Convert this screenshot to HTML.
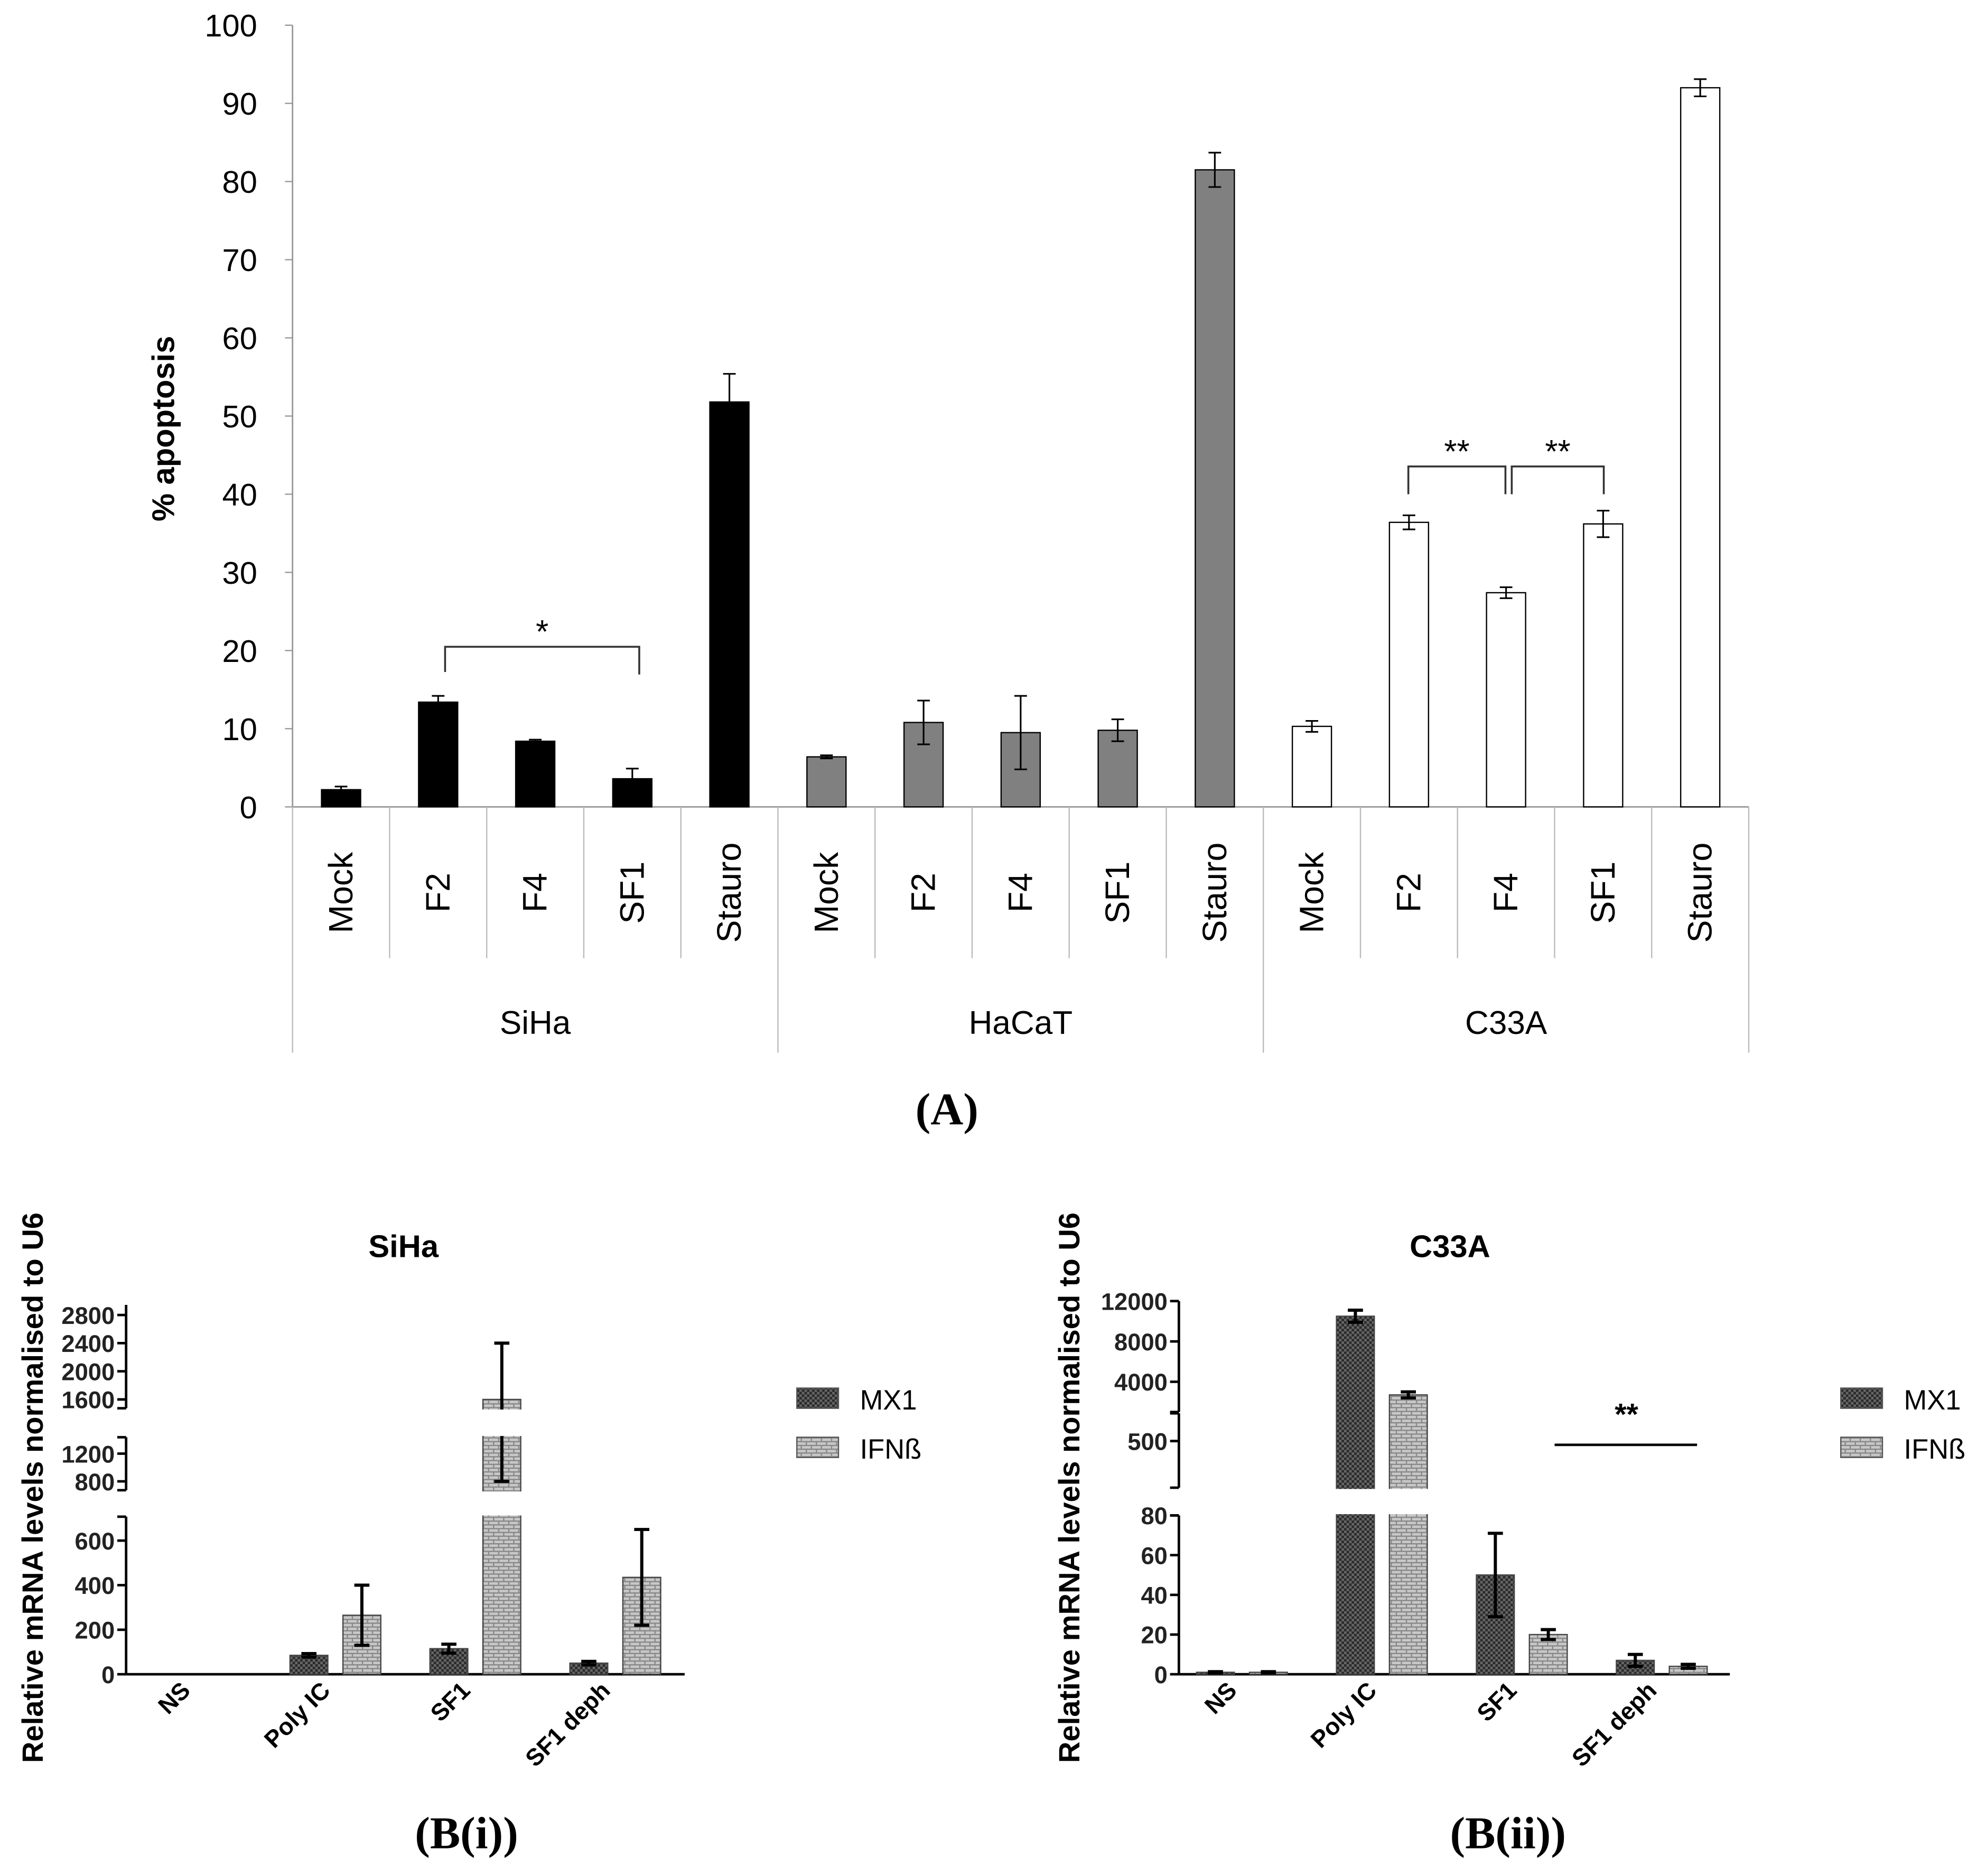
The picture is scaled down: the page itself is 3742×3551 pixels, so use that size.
<!DOCTYPE html>
<html><head><meta charset="utf-8"><style>html,body{margin:0;padding:0;background:#fff}svg{display:block}</style></head>
<body>
<svg id="fig" xmlns="http://www.w3.org/2000/svg" width="3742" height="3551" viewBox="0 0 1568 1488" font-family="Liberation Sans, sans-serif">
<defs>
<pattern id="pmx" width="4" height="4" patternUnits="userSpaceOnUse"><rect width="4" height="4" fill="#2a2a2a"/><rect width="2" height="2" fill="#666"/><rect x="2" y="2" width="2" height="2" fill="#666"/></pattern>
<pattern id="pifn" width="8" height="6" patternUnits="userSpaceOnUse"><rect width="8" height="6" fill="#c8c8c8"/><rect y="0" width="8" height="1" fill="#888"/><rect x="0" y="3" width="8" height="1" fill="#888"/><rect x="3" y="0" width="1" height="3" fill="#888"/><rect x="7" y="3" width="1" height="3" fill="#888"/></pattern>
</defs>
<g id="pa"></g>
<g id="pb1"></g>
<g id="pb2"></g>
</svg>
<script>
// Panel A data
const aGroups = ["SiHa","HaCaT","C33A"];
const aCats = ["Mock","F2","F4","SF1","Stauro"];
const aSiHa = [2.2,13.4,8.4,3.6,51.8];
const aSiHaErr = [0.4,0.8,0.2,1.3,3.6];
const aHaCaT = [6.4,10.8,9.5,9.8,81.5];
const aHaCaTErr = [0.2,2.8,4.7,1.4,2.2];
const aC33A = [10.3,36.4,27.4,36.2,92];
const aC33AErr = [0.7,0.9,0.7,1.7,1.1];
const aTicks = [0,10,20,30,40,50,60,70,80,90,100];
// Panel B data
const bCats = ["NS","Poly IC","SF1","SF1 deph"];
const b1MX1 = [0,85,115,50];
const b1MX1Err = [0,8,20,8];
const b1IFN = [0,265,1600,435];
const b1IFNErr = [0,135,800,215];
const b1Ticks = [0,200,400,600,800,1200,1600,2000,2400,2800];
const b2MX1 = [1,10500,50,7];
const b2MX1Err = [0.3,600,21,3];
const b2IFN = [1,2700,20,4];
const b2IFNErr = [0.3,300,2.5,1];
const b2Ticks = [0,20,40,60,80,500,4000,8000,12000];

const NS="http://www.w3.org/2000/svg";
function mk(parent,tag,attrs,text){const e=document.createElementNS(NS,tag);for(const k in attrs)e.setAttribute(k,attrs[k]);if(text!==undefined)e.textContent=text;parent.appendChild(e);return e;}

// ---------- Panel A ----------
const pa=document.getElementById('pa');
const ay=v=>640-v*6.2;
const ax0=232, cw=77;
let ax=mk(pa,'line',{x1:ax0,y1:20,x2:ax0,y2:640,stroke:'#999','stroke-width':1.2});

aTicks.forEach(t=>{
  mk(pa,'line',{x1:ax0-6,y1:ay(t),x2:ax0,y2:ay(t),stroke:'#999'});
  const l=mk(pa,'text',{x:ax0-28,y:ay(t)+9,'text-anchor':'end','font-size':25},t);
  
});
const yt=mk(pa,'text',{transform:'translate(138,340) rotate(-90)','text-anchor':'middle','font-size':25,'font-weight':'bold'},'% apoptosis');

mk(pa,'line',{x1:ax0,y1:640,x2:ax0+cw*15,y2:640,stroke:'#999','stroke-width':1.2});
const aVals=[aSiHa,aHaCaT,aC33A], aErrs=[aSiHaErr,aHaCaTErr,aC33AErr];
const aFill=['#000','#808080','#fff'];
aGroups.forEach((g,gi)=>{
  aCats.forEach((c,ci)=>{
    const i=gi*5+ci, cx=ax0+cw*(i+0.5), v=aVals[gi][ci], e=aErrs[gi][ci];
    const b=mk(pa,'rect',{x:cx-15.5,y:ay(v),width:31,height:ay(0)-ay(v),fill:aFill[gi],stroke:'#000','stroke-width':1});
    
    mk(pa,'line',{x1:cx,y1:ay(v+e),x2:cx,y2:ay(v-e),stroke:'#000','stroke-width':1.3});
    mk(pa,'line',{x1:cx-5,y1:ay(v+e),x2:cx+5,y2:ay(v+e),stroke:'#000','stroke-width':1.3});
    mk(pa,'line',{x1:cx-5,y1:ay(v-e),x2:cx+5,y2:ay(v-e),stroke:'#000','stroke-width':1.3});
    const l=mk(pa,'text',{transform:`translate(${cx+9},708) rotate(-90)`,'text-anchor':'middle','font-size':27},c);
    
    const x=ax0+cw*i;
    mk(pa,'line',{x1:x,y1:640,x2:x,y2:ci===0?835:760,stroke:'#bbb'});
  });
  const gl=mk(pa,'text',{x:ax0+cw*(gi*5+2.5),y:820,'text-anchor':'middle','font-size':26},g);
  
});
mk(pa,'line',{x1:ax0+cw*15,y1:640,x2:ax0+cw*15,y2:835,stroke:'#bbb'});
function bracket(p,x1,x2,y,y1b,y2b,lab){mk(p,'path',{d:`M${x1},${y1b}V${y}H${x2}V${y2b}`,fill:'none',stroke:'#333','stroke-width':1.5});const t=mk(p,'text',{x:(x1+x2)/2,y:y-3,'text-anchor':'middle','font-size':26},lab);}
bracket(pa,353,507,513,533,535,'*');
bracket(pa,1117,1194,370,392,392,'**');
bracket(pa,1199,1272,370,392,392,'**');
const la=mk(pa,'text',{x:751,y:892,'text-anchor':'middle','font-size':36,'font-weight':'bold','font-family':'Liberation Serif, serif'},'(A)');


// ---------- Panel B ----------
function panelB(p,o){
  const {x0,x1,fy,segs,ticks,mx,mxe,ifn,ifne,title,tx,ytx,lx,lab,labx,gc}=o;
  const t=mk(p,'text',{x:tx,y:997,'text-anchor':'middle','font-size':25,'font-weight':'bold'},title);
  
  const yt=mk(p,'text',{transform:`translate(${ytx},1180) rotate(-90)`,'text-anchor':'middle','font-size':23.5,'font-weight':'bold'},'Relative mRNA levels normalised to U6');
  
  segs.forEach(s=>mk(p,'line',{x1:x0,y1:s[0],x2:x0,y2:s[1],stroke:'#000','stroke-width':2}));
  ticks.forEach(v=>{const y=fy(v);mk(p,'line',{x1:x0-7,y1:y,x2:x0,y2:y,stroke:'#000','stroke-width':2});
    const l=mk(p,'text',{x:x0-9,y:y+7,'text-anchor':'end','font-size':19,'font-weight':'bold','fill':'#222'},v);
    });
  for(let i=0;i<segs.length-1;i++){mk(p,'line',{x1:x0-7,y1:segs[i][1],x2:x0,y2:segs[i][1],stroke:'#000','stroke-width':2});mk(p,'line',{x1:x0-7,y1:segs[i+1][0],x2:x0,y2:segs[i+1][0],stroke:'#000','stroke-width':2});}
  mk(p,'line',{x1:x0,y1:1328,x2:x1,y2:1328,stroke:'#000','stroke-width':2});
  bCats.forEach((c,i)=>{
    const cx=gc+111*i;
    [[mx,mxe,-21,'url(#pmx)','mx1'],[ifn,ifne,21,'url(#pifn)','ifnb']].forEach(([arr,err,dx,f,n])=>{
      const v=arr[i],e=err[i],bx=cx+dx;
      const b=mk(p,'rect',{x:bx-15,y:fy(v),width:30,height:1328-fy(v),fill:f,stroke:'#444','stroke-width':1});
      
      if(e>0){mk(p,'path',{d:`M${bx},${fy(v+e)}V${fy(Math.max(v-e,0))}M${bx-6},${fy(v+e)}H${bx+6}M${bx-6},${fy(Math.max(v-e,0))}H${bx+6}`,stroke:'#000','stroke-width':2.5,fill:'none'});}
    });
    const l=mk(p,'text',{transform:`translate(${cx-3},1342) rotate(-45)`,'text-anchor':'end','font-size':19,'font-weight':'bold'},c);
    
  });
  for(let i=0;i<segs.length-1;i++) mk(p,'rect',{x:x0+3,y:segs[i][1]+1,width:x1-x0,height:segs[i+1][0]-segs[i][1]-2,fill:'#fff'});
  [['MX1','url(#pmx)',1110],['IFNß','url(#pifn)',1149]].forEach(([n,f,y])=>{
    const r=mk(p,'rect',{x:lx,y:y-9,width:33,height:16,fill:f,stroke:'#555'});
    
    const t=mk(p,'text',{x:lx+50,y:y+8,'font-size':22},n);
    
  });
  const pl=mk(p,'text',{x:labx,y:1466,'text-anchor':'middle','font-size':36,'font-weight':'bold','font-family':'Liberation Serif, serif'},lab);
  
}
const fy1=v=>v<=650?1328-v*0.1767:(v<1400?1175-(v-800)*0.055:1110-(v-1600)*0.0558);
panelB(document.getElementById('pb1'),{x0:100,x1:543,fy:fy1,segs:[[1035,1117],[1140,1182],[1203,1328]],ticks:b1Ticks,mx:b1MX1,mxe:b1MX1Err,ifn:b1IFN,ifne:b1IFNErr,title:'SiHa',tx:320,ytx:34,lx:632,lab:'(B(i))',labx:370,gc:155});
const fy2=v=>v<=90?1328-v*1.575:(v<1000?1143-(v-500)*0.02:1096-(v-4000)*0.008);
panelB(document.getElementById('pb2'),{x0:935,x1:1372,fy:fy2,segs:[[1032,1120],[1143-22,1180],[1202,1328]],ticks:b2Ticks,mx:b2MX1,mxe:b2MX1Err,ifn:b2IFN,ifne:b2IFNErr,title:'C33A',tx:1150,ytx:856,lx:1460,lab:'(B(ii))',labx:1196,gc:985});
const pb2=document.getElementById('pb2');
mk(pb2,'line',{x1:1233,y1:1146,x2:1346,y2:1146,stroke:'#000','stroke-width':2});
const sm=mk(pb2,'text',{x:1290,y:1130,'text-anchor':'middle','font-size':24,'font-weight':'bold'},'**');


</script>
</body></html>
